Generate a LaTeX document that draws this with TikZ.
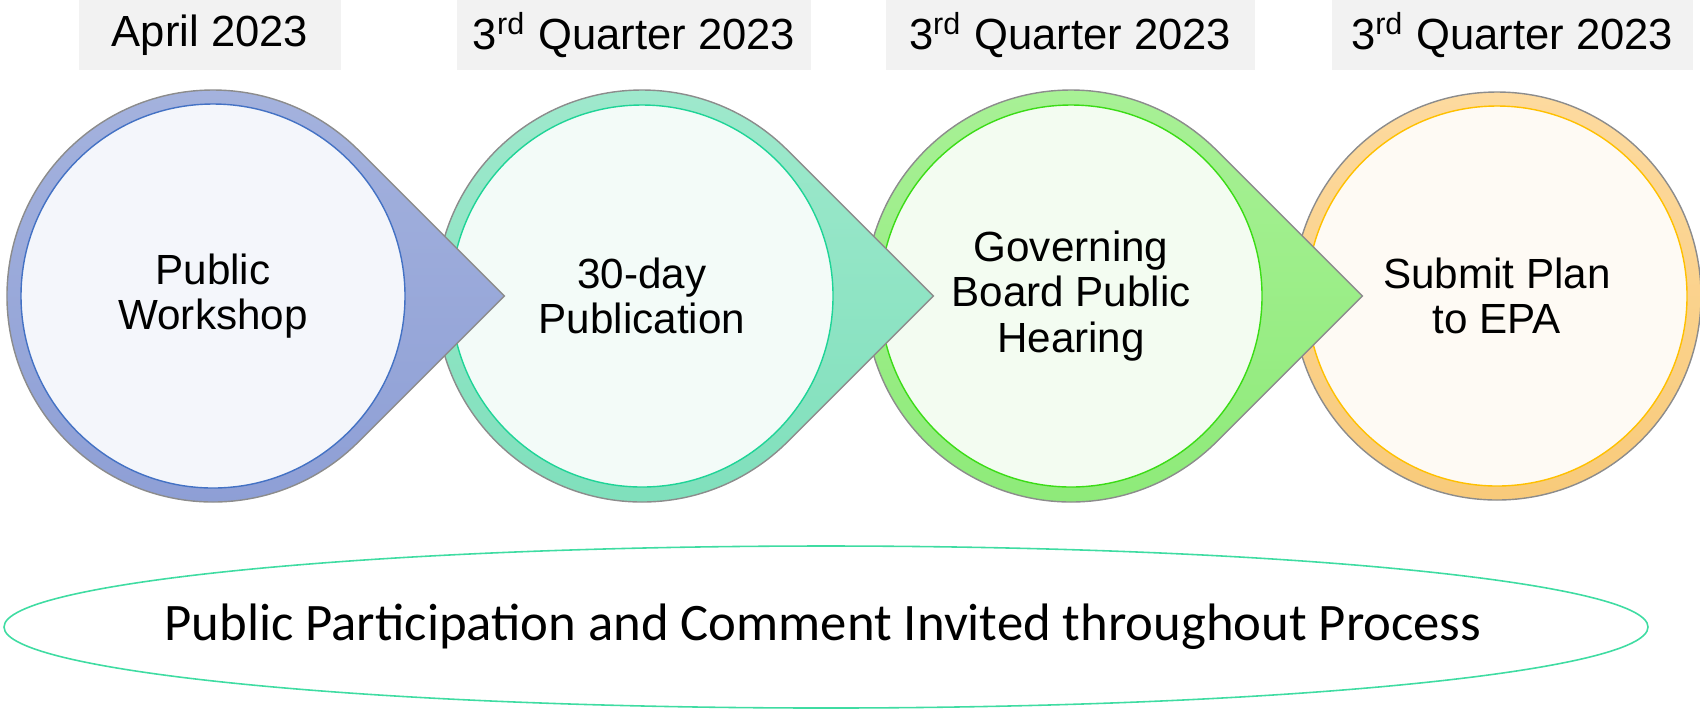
\documentclass[tikz,border=0pt]{standalone}
\usepackage{fontspec}
\setmainfont{Liberation Sans}
\newfontfamily\bandfont{Carlito}
\usetikzlibrary{shapes.geometric}

\definecolor{boxgray}{HTML}{F2F2F2}
\definecolor{edgegray}{HTML}{8C8C8C}
\definecolor{bluetop}{HTML}{A5B3DE}
\definecolor{bluebot}{HTML}{8D9ED5}
\definecolor{blueline}{HTML}{4472C4}
\definecolor{bluein}{HTML}{F4F6FB}
\definecolor{minttop}{HTML}{A0E9CD}
\definecolor{mintbot}{HTML}{7EDFBB}
\definecolor{mintline}{HTML}{1FD497}
\definecolor{mintin}{HTML}{F3FBF8}
\definecolor{greentop}{HTML}{A9F197}
\definecolor{greenbot}{HTML}{8DEA78}
\definecolor{greenline}{HTML}{3BDC16}
\definecolor{greenin}{HTML}{F3FCF1}
\definecolor{orangetop}{HTML}{FDDA9F}
\definecolor{orangebot}{HTML}{F8CA7A}
\definecolor{orangeline}{HTML}{FFC000}
\definecolor{orangein}{HTML}{FEFAF4}
\definecolor{bandline}{HTML}{3FDCA2}

\tikzset{
    datebox/.style={fill=boxgray, minimum height=7mm, inner sep=0pt,
        font=\fontsize{12.4}{14}\selectfont},
    ring/.style={draw=edgegray, line width=0.4pt},
    core/.style={line width=0.4pt},
    stagetext/.style={align=center, inner sep=0pt,
        font=\fontsize{12}{12.9}\selectfont},
}

\begin{document}
\begin{tikzpicture}[x=0.1mm,y=0.1mm]
    \useasboundingbox (0,0) rectangle (1700,711);

    % dates
    \node[datebox, minimum width=26.2mm] (date1) at (210,676) {April 2023};
    \node[datebox, minimum width=35.4mm] (date2) at (634,676) {3\textsuperscript{rd} Quarter 2023};
    \node[datebox, minimum width=36.9mm] (date3) at (1070,676) {3\textsuperscript{rd} Quarter 2023};
    \node[datebox, minimum width=36.1mm] (date4) at (1512,676) {3\textsuperscript{rd} Quarter 2023};

    \coordinate (c1) at (213,415);
    \coordinate (c2) at (642,415);
    \coordinate (c3) at (1071,415);
    \coordinate (c4) at (1497,415);

    % stages, last one first so each tip lies on the next circle
    \draw[ring, top color=orangetop, bottom color=orangebot] (c4) circle[radius=204];
    \draw[core, draw=orangeline, fill=orangein] (c4) circle[radius=190];

    \draw[ring, top color=greentop, bottom color=greenbot] (c3) ++(0:291.3) -- ++(135:206)
        arc[start angle=45, end angle=315, radius=206] -- cycle;
    \draw[core, draw=greenline, fill=greenin] (c3) circle[radius=191];

    \draw[ring, top color=minttop, bottom color=mintbot] (c2) ++(0:291.3) -- ++(135:206)
        arc[start angle=45, end angle=315, radius=206] -- cycle;
    \draw[core, draw=mintline, fill=mintin] (c2) circle[radius=191];

    \draw[ring, top color=bluetop, bottom color=bluebot] (c1) ++(0:291.3) -- ++(135:206)
        arc[start angle=45, end angle=315, radius=206] -- cycle;
    \draw[core, draw=blueline, fill=bluein] (c1) circle[radius=192];

    \node[stagetext] (stage1) at (c1) {Public\\Workshop};
    \node[stagetext] (stage2) at (c2) {30-day\\Publication};
    \node[stagetext] (stage3) at (c3) {Governing\\Board Public\\Hearing};
    \node[stagetext] (stage4) at (c4) {Submit Plan\\to EPA};

    % band under the stages
    \node[inner sep=0pt, font=\bandfont\fontsize{15}{18}\selectfont] (band) at (823,84)
        {Public Participation and Comment Invited throughout Process};
    \draw[bandline, line width=0.45pt] (826,84) ellipse[x radius=822, y radius=81];
\end{tikzpicture}
\end{document}
